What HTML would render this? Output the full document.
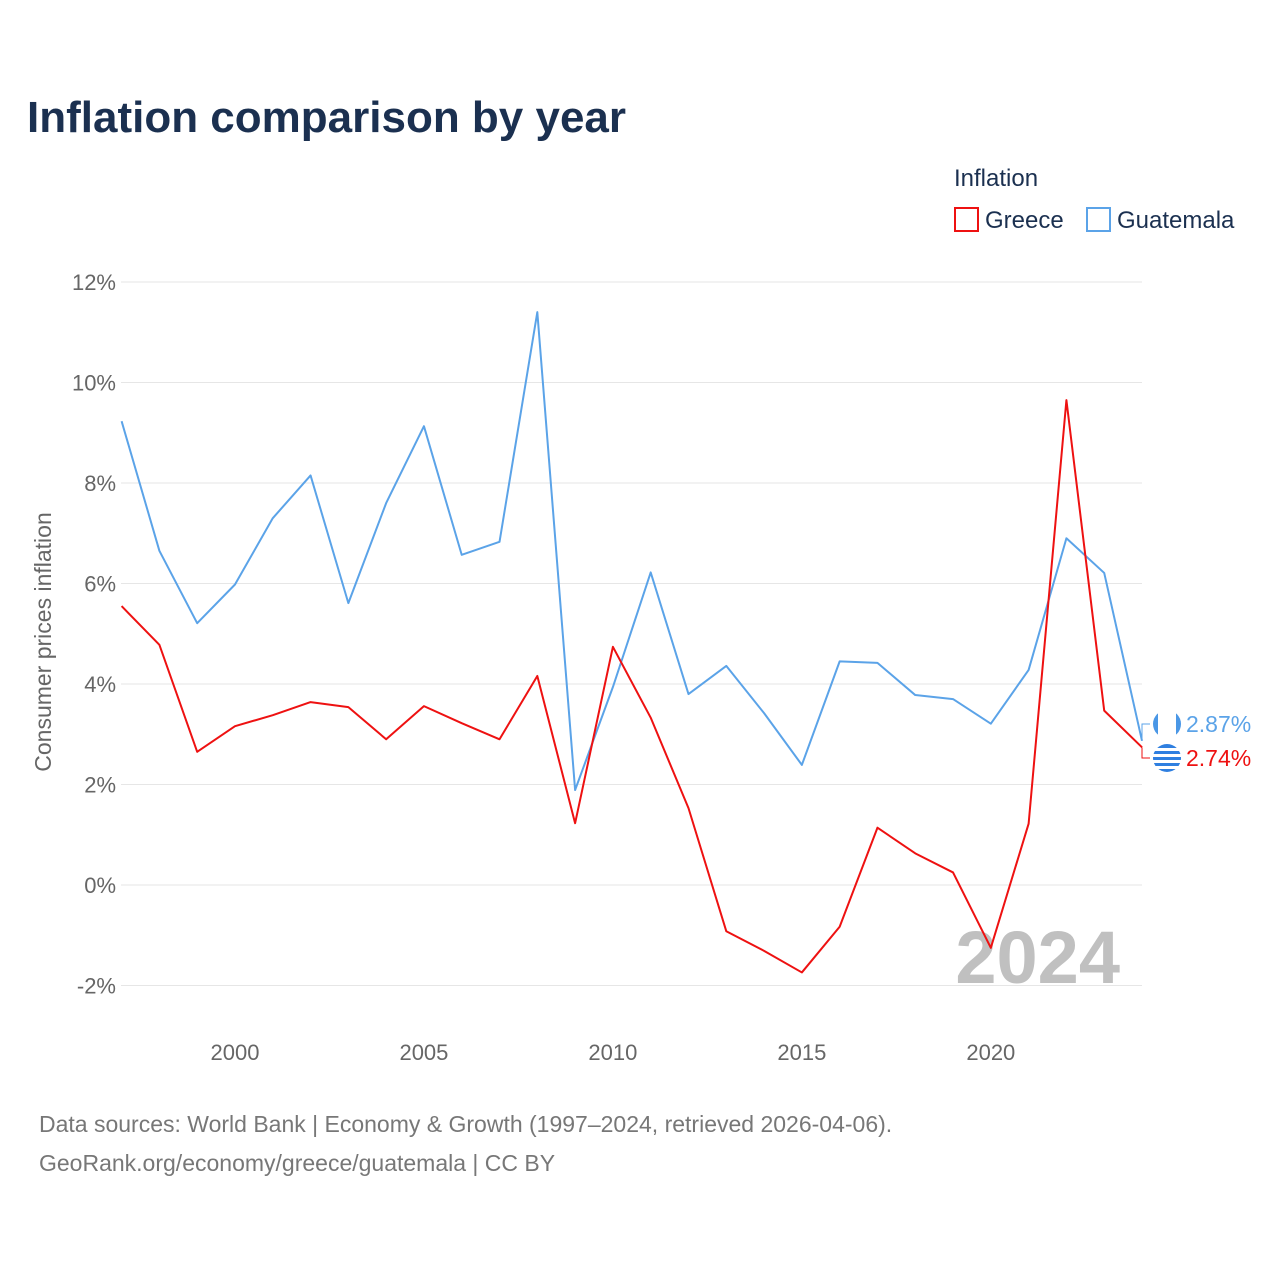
<!DOCTYPE html>
<html><head><meta charset="utf-8"><style>
body{margin:0;background:#fff;font-family:"Liberation Sans",sans-serif;}
</style></head><body>
<svg id="chart" width="1280" height="1280" xmlns="http://www.w3.org/2000/svg" style="font-family:'Liberation Sans',sans-serif">
<text x="27" y="132" font-size="44" font-weight="bold" fill="#1b3050">Inflation comparison by year</text>
<text x="954" y="186" font-size="24" fill="#1b3050">Inflation</text>
<g><rect x="955" y="208" width="23" height="23" fill="none" stroke="#ee1111" stroke-width="2"/><text x="985" y="228" font-size="24" fill="#1b3050">Greece</text></g>
<g><rect x="1087" y="208" width="23" height="23" fill="none" stroke="#5ba3e8" stroke-width="2"/><text x="1117" y="228" font-size="24" fill="#1b3050">Guatemala</text></g>
<g id="grid"></g><g id="yt"></g><g id="xt"></g>
<text transform="translate(51,642) rotate(-90)" text-anchor="middle" font-size="23" fill="#666">Consumer prices inflation</text>
<text x="1120" y="983" text-anchor="end" font-size="74" font-weight="bold" fill="#c0c0c0">2024</text>
<g id="lines"></g>
<text x="39" y="1132" font-size="23" fill="#777">Data sources: World Bank | Economy &amp; Growth (1997–2024, retrieved 2026-04-06).</text>
<text x="39" y="1171" font-size="23" fill="#777">GeoRank.org/economy/greece/guatemala | CC BY</text>
</svg>
<script>
const years=[1997,1998,1999,2000,2001,2002,2003,2004,2005,2006,2007,2008,2009,2010,2011,2012,2013,2014,2015,2016,2017,2018,2019,2020,2021,2022,2023,2024];
const greece=[5.55,4.78,2.65,3.16,3.38,3.64,3.54,2.9,3.56,3.22,2.9,4.16,1.23,4.74,3.33,1.53,-0.92,-1.31,-1.74,-0.83,1.14,0.63,0.25,-1.25,1.22,9.65,3.47,2.74];
const guatemala=[9.23,6.65,5.21,5.98,7.3,8.15,5.61,7.6,9.13,6.57,6.83,11.4,1.89,3.94,6.22,3.8,4.36,3.42,2.39,4.45,4.42,3.78,3.7,3.21,4.28,6.9,6.21,2.87];
const yTicks=[-2,0,2,4,6,8,10,12];
const xTicks=[2000,2005,2010,2015,2020];
const NS='http://www.w3.org/2000/svg';
const x=v=>121.6+(v-1997)*(1142-121.6)/27;
const y=v=>885-v*50.25;
function mk(t,a,p){const e=document.createElementNS(NS,t);for(const k in a)e.setAttribute(k,a[k]);document.getElementById(p).appendChild(e);return e;}
yTicks.forEach(v=>{
 const l=mk('line',{x1:121,x2:1142,y1:y(v),y2:y(v),stroke:'#e6e6e6','stroke-width':1},'grid');
 
 
 const t=mk('text',{x:116,y:y(v)+8,'text-anchor':'end','font-size':22,fill:'#666'},'yt');
 t.textContent=v+'%';
 
 
});
xTicks.forEach(v=>{
 const t=mk('text',{x:x(v),y:1060,'text-anchor':'middle','font-size':22,fill:'#666'},'xt');
 t.textContent=v;
 
 
});
function series(d,c,name){
 const p=mk('polyline',{points:d.map((v,i)=>x(years[i])+','+y(v)).join(' '),fill:'none',stroke:c,'stroke-width':2,'stroke-linejoin':'round'},'lines');
 
 
}
series(guatemala,'#5ba3e8','guatemala');
series(greece,'#ee1111','greece');
function endLabel(v,ly,c,name,flag){
 const g=mk('g',{},'lines');
 
 
 const ex=x(2024),ey=y(v);
 const pl=document.createElementNS(NS,'polyline');
 pl.setAttribute('points',ex+','+ey+' '+(ex)+','+ly+' '+(ex+8)+','+ly);pl.setAttribute('fill','none');pl.setAttribute('stroke',c);pl.setAttribute('stroke-width',1);g.appendChild(pl);
 const ci=document.createElementNS(NS,'circle');ci.setAttribute('cx',1167);ci.setAttribute('cy',ly);ci.setAttribute('r',14);ci.setAttribute('fill',flag);g.appendChild(ci);
 if(name==='guatemala'){const r=document.createElementNS(NS,'rect');r.setAttribute('x',1158);r.setAttribute('y',ly-14);r.setAttribute('width',18);r.setAttribute('height',28);r.setAttribute('fill','#fff');g.appendChild(r);}
 else{for(let k=0;k<4;k++){const r=document.createElementNS(NS,'rect');r.setAttribute('x',1153);r.setAttribute('y',ly-10+k*6);r.setAttribute('width',28);r.setAttribute('height',3);r.setAttribute('fill','#fff');g.appendChild(r);}}
 const t=document.createElementNS(NS,'text');t.setAttribute('x',1186);t.setAttribute('y',ly+8);t.setAttribute('font-size',23);t.setAttribute('fill',c);t.textContent=v.toFixed(2)+'%';g.appendChild(t);
}
endLabel(guatemala[guatemala.length-1],724,'#5ba3e8','guatemala','#4a97e6');
endLabel(greece[greece.length-1],758,'#ee1111','greece','#2f7fe0');
</script>
</body></html>
